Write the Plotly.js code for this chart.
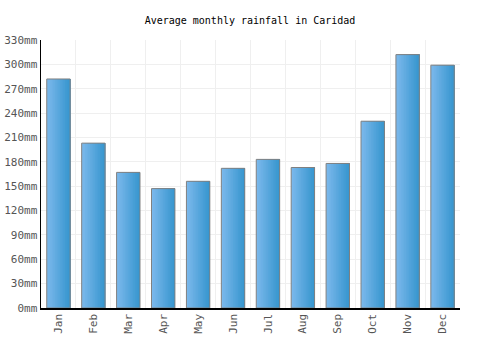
<!DOCTYPE html>
<html><head><meta charset="utf-8">
<script src="https://cdn.plot.ly/plotly-3.0.1.min.js"></script>
<style>html,body{margin:0;padding:0;background:#fff}#chart{width:500px;height:350px}</style>
</head><body><div id="chart"></div>
<script>
const months = ["Jan","Feb","Mar","Apr","May","Jun","Jul","Aug","Sep","Oct","Nov","Dec"];
const rainfall = [282, 203, 167, 147, 156, 172, 183, 173, 178, 230, 312, 299];
const yTicks = [0,30,60,90,120,150,180,210,240,270,300,330];

const barWidth = 0.67;
const slices = 14;
const c0 = [122,184,235], c1 = [56,150,207];
const traces = [];
for (let i = 0; i < slices; i++) {
  const t = i / (slices - 1);
  const c = c0.map((v, k) => Math.round(v + (c1[k] - v) * t));
  const start = -barWidth / 2 + i * barWidth / slices;
  traces.push({
    type: 'bar', x: months, y: rainfall,
    width: barWidth / 2 - start,
    offset: start,
    marker: {color: `rgb(${c.join(',')})`, line: {width: 0}},
    hoverinfo: 'skip', showlegend: false
  });
}
traces.push({
  type: 'bar', x: months, y: rainfall, width: barWidth, offset: -barWidth / 2,
  marker: {color: 'rgba(0,0,0,0)', line: {color: '#808080', width: 1}},
  showlegend: false
});

const layout = {
  width: 500, height: 350,
  margin: {l: 41, r: 40, t: 40, b: 42},
  paper_bgcolor: '#fff', plot_bgcolor: '#fff',
  barmode: 'overlay',
  title: {text: 'Average monthly rainfall in Caridad', x: 0.5, xanchor: 'center', y: 1 - 20 / 350, yanchor: 'middle',
          font: {family: 'DejaVu Sans Mono, monospace', size: 10, color: '#000'}},
  font: {family: 'DejaVu Sans Mono, monospace', size: 11, color: '#555'},
  xaxis: {type: 'category', tickson: 'boundaries', showgrid: true, gridcolor: '#efefef',
          showline: true, linecolor: '#000', linewidth: 1.5, ticks: '', tickangle: -90,
          tickfont: {family: 'DejaVu Sans Mono, monospace', size: 11, color: '#555'}},
  yaxis: {range: [0, 330], tickvals: yTicks, ticktext: yTicks.map(v => v + 'mm'),
          showgrid: true, gridcolor: '#efefef', zeroline: false,
          showline: true, linecolor: '#000', linewidth: 1.5, ticks: '',
          tickfont: {family: 'DejaVu Sans Mono, monospace', size: 11, color: '#555'}}
};
Plotly.newPlot('chart', traces, layout, {staticPlot: true, displayModeBar: false});
</script></body></html>
